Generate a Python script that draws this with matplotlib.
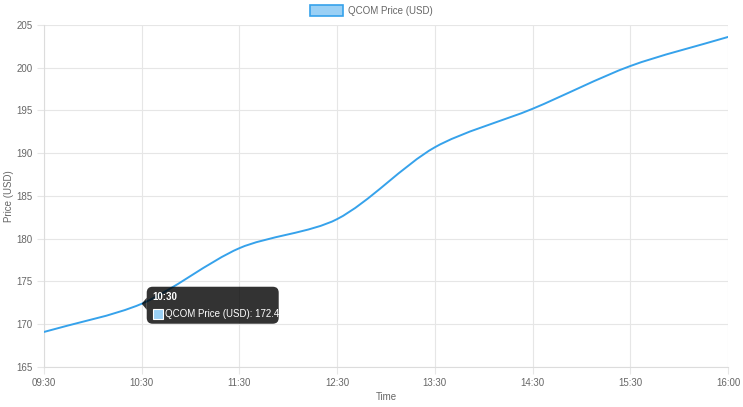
import numpy as np
import matplotlib
matplotlib.use('Agg')
import matplotlib.pyplot as plt
from matplotlib.path import Path
from matplotlib.patches import PathPatch, FancyBboxPatch, Polygon, Rectangle

plt.rcParams['font.family'] = ['Liberation Sans', 'DejaVu Sans']

times = ["09:30", "10:30", "11:30", "12:30", "13:30", "14:30", "15:30", "16:00"]
prices = [169.1, 172.4, 178.9, 182.3, 190.7, 195.2, 200.2, 203.6]
series_label = "QCOM Price (USD)"
tip_idx = 1

line_color = '#36a2eb'
fill_color = '#9ad0f5'
text_color = '#666666'
grid_color = '#e6e6e6'

fig = plt.figure(figsize=(7.43, 4.07), dpi=100)
ax = fig.add_axes([44 / 743, 40 / 407, 684 / 743, 342 / 407])

ax.set_xlim(0, len(times) - 1)
ax.set_ylim(165, 205)

x = np.arange(len(times), dtype=float)
y = np.array(prices, dtype=float)

# smooth line like chart.js (tension, distance weighted, in pixel space)
pts = ax.transData.transform(np.column_stack([x, y]))
t = 0.3
n = len(pts)
verts = [tuple(pts[0])]
codes = [Path.MOVETO]
def ctrl(i):
    prev = pts[max(i - 1, 0)]
    cur = pts[i]
    nxt = pts[min(i + 1, n - 1)]
    d01 = np.hypot(*(cur - prev))
    d12 = np.hypot(*(nxt - cur))
    tot = d01 + d12
    s01 = d01 / tot if tot else 0
    s12 = d12 / tot if tot else 0
    return cur - t * s01 * (nxt - prev), cur + t * s12 * (nxt - prev)
for i in range(n - 1):
    c1 = ctrl(i)[1]
    c2 = ctrl(i + 1)[0]
    verts += [tuple(c1), tuple(c2), tuple(pts[i + 1])]
    codes += [Path.CURVE4] * 3
dverts = ax.transData.inverted().transform(np.array(verts))
ax.add_patch(PathPatch(Path(dverts, codes), facecolor='none', edgecolor=line_color,
                       lw=1.4, zorder=3, capstyle='round'))

ax.set_xticks(x)
ax.set_xticklabels(times)
ax.set_yticks(np.arange(165, 206, 5))
ax.grid(True, color=grid_color, lw=0.8)
ax.set_axisbelow(True)
for s in ax.spines.values():
    s.set_visible(False)
ax.spines['left'].set_visible(True)
ax.spines['bottom'].set_visible(True)
ax.spines['left'].set_color('#dcdcdc')
ax.spines['bottom'].set_color('#dcdcdc')
ax.tick_params(colors=grid_color, labelcolor=text_color, labelsize=7, length=5, width=0.8, pad=3)
ax.set_xlabel("Time", fontsize=7, color=text_color, labelpad=3)
ax.set_ylabel("Price (USD)", fontsize=7, color=text_color, labelpad=2)

# legend
fig.patches.append(Rectangle((310 / 743, 391 / 407), 33 / 743, 11 / 407, transform=fig.transFigure,
                             facecolor=fill_color, edgecolor=line_color, lw=1.2))
fig.text(348 / 743, 396.5 / 407, series_label, fontsize=7, color=text_color, va='center', ha='left')

# tooltip
px, py = ax.transData.transform((x[tip_idx], y[tip_idx]))
bx0, bx1 = px + 5, px + 137
by0, by1 = py - 20, py + 17
inv = fig.transFigure.inverted()
(fx0, fy0), (fx1, fy1) = inv.transform([(bx0, by0), (bx1, by1)])
fig.patches.append(FancyBboxPatch((fx0, fy0), fx1 - fx0, fy1 - fy0, transform=fig.transFigure,
                                  boxstyle="round,pad=0,rounding_size=0.008",
                                  facecolor='#000000', alpha=0.8, edgecolor='none', zorder=10,
                                  mutation_aspect=743 / 407))
caret = inv.transform([(px + 0, py), (bx0, py + 6), (bx0, py - 6)])
fig.patches.append(Polygon(caret, closed=True, transform=fig.transFigure,
                           facecolor='#000000', alpha=0.8, edgecolor='none', zorder=10))
tx, ty = inv.transform((bx0 + 6, by1 - 10))
fig.text(tx, ty, times[tip_idx], fontsize=7, color='white', fontweight='bold', va='center', zorder=11)
sx0, sy0 = inv.transform((bx0 + 6, by0 + 5))
sx1, sy1 = inv.transform((bx0 + 16, by0 + 15))
fig.patches.append(Rectangle((sx0, sy0), sx1 - sx0, sy1 - sy0, transform=fig.transFigure,
                             facecolor=fill_color, edgecolor='white', lw=0.8, zorder=11))
lx, ly = inv.transform((bx0 + 18, by0 + 10))
fig.text(lx, ly, "%s: %.1f" % (series_label, prices[tip_idx]), fontsize=7, color='white',
         va='center', zorder=11)

fig.savefig("out.png", dpi=100)
